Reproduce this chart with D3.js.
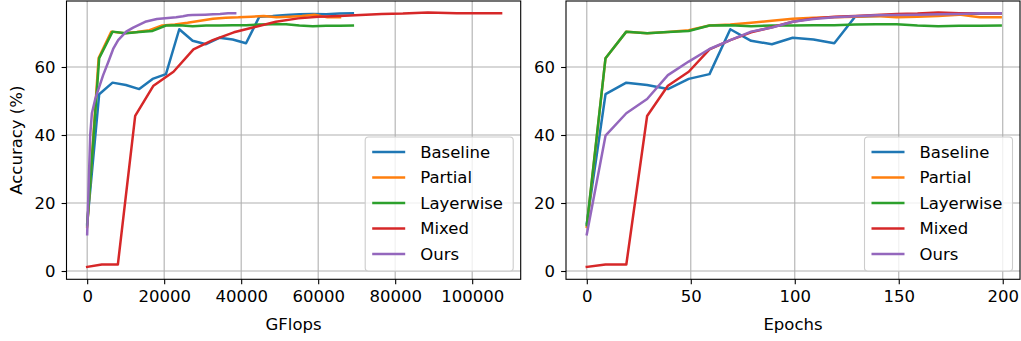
<!DOCTYPE html>
<html lang="en">
<head>
<meta charset="UTF-8">
<title>Accuracy vs GFlops / Epochs</title>
<script src="https://d3js.org/d3.v7.min.js"></script>
<style>
  body { margin: 0; background: #fff; }
  svg text { font-family: "DejaVu Sans", sans-serif; }
</style>
</head>
<body>
<svg id="chart" width="1021" height="341"></svg>
<script>
// ---- data ----
var names = ["Baseline", "Partial", "Layerwise", "Mixed", "Ours"];
var colors = ["#1f77b4", "#ff7f0e", "#2ca02c", "#d62728", "#9467bd"];

var epochs = [0, 9, 19, 29, 39, 49, 59, 69, 79, 89, 99, 109, 119, 129, 139, 149, 159, 169, 179, 189, 199];

var baselineAcc  = [14.0, 52.0, 55.4, 54.7, 53.5, 56.5, 57.9, 71.1, 67.7, 66.7, 68.6, 68.1, 67.0, 74.8, 75.0, 75.3, 75.5, 75.6, 75.5, 75.7, 75.8];
var partialAcc   = [13.0, 62.6, 70.4, 69.9, 70.3, 70.8, 72.2, 72.5, 73.0, 73.6, 74.2, 74.5, 74.6, 74.8, 75.0, 74.6, 74.8, 75.0, 75.4, 74.6, 74.6];
var layerwiseAcc = [13.5, 62.6, 70.4, 69.9, 70.3, 70.6, 72.2, 72.3, 72.0, 72.2, 72.2, 72.3, 72.3, 72.5, 72.6, 72.6, 72.2, 72.0, 72.1, 72.1, 72.2];
var mixedAcc     = [1.2, 1.9, 1.9, 45.6, 54.5, 58.6, 65.2, 67.9, 70.2, 71.7, 73.3, 74.3, 74.8, 75.0, 75.3, 75.6, 75.7, 76.0, 75.8, 75.8, 75.8];
var oursAcc      = [10.8, 39.8, 46.4, 50.6, 57.6, 61.6, 65.3, 67.9, 70.4, 71.6, 73.3, 74.1, 74.6, 74.9, 75.2, 75.3, 75.4, 75.5, 75.6, 75.8, 75.8];

var baselineGflops  = [0, 3120, 6590, 10050, 13520, 16990, 20460, 23920, 27390, 30860, 34320, 37790, 41260, 44720, 48190, 51660, 55130, 58590, 62060, 65530, 69000];
var partialGflops   = [0, 2970, 6270, 9570, 12870, 16170, 19470, 22770, 26070, 29370, 32670, 35970, 39270, 42570, 45870, 49170, 52470, 55770, 59070, 62370, 65670];
var layerwiseGflops = [0, 3120, 6590, 10050, 13520, 16990, 20460, 23920, 27390, 30860, 34320, 37790, 41260, 44720, 48190, 51660, 55130, 58590, 62060, 65530, 69000];
var mixedGflops     = [0, 3800, 7970, 12470, 17220, 22420, 27600, 32600, 38100, 43300, 49000, 54800, 60000, 65500, 71000, 76500, 82000, 88500, 96000, 101500, 107500];
var oursGflops      = [0, 780, 1220, 2100, 4150, 5530, 6750, 8050, 10130, 11950, 15060, 18100, 23100, 24900, 26200, 27300, 30650, 32700, 34500, 36600, 38440];

var yTicks = [0, 20, 40, 60];
var gflopTicks = [0, 20000, 40000, 60000, 80000, 100000];
var epochTicks = [0, 50, 100, 150, 200];

var accs = [baselineAcc, partialAcc, layerwiseAcc, mixedAcc, oursAcc];
var gflops = [baselineGflops, partialGflops, layerwiseGflops, mixedGflops, oursGflops];

// ---- layout ----
var fs = 16.5;
var lw = 2.5;
var plotTop = 1, plotBottom = 279.3;
var svg = d3.select("#chart");

var y = d3.scaleLinear().domain([-2.44, 79.41]).range([plotBottom, plotTop]);

function panel(left, right, x, xs, ticks, xlabel, ylabel) {
  var g = svg.append("g");
  var w = right - left;

  // grid
  g.append("g").selectAll("line").data(ticks).join("line")
    .attr("x1", function(d) { return x(d); }).attr("x2", function(d) { return x(d); })
    .attr("y1", plotTop).attr("y2", plotBottom)
    .attr("stroke", "#b0b0b0").attr("stroke-width", 1.1);
  g.append("g").selectAll("line").data(yTicks).join("line")
    .attr("x1", left).attr("x2", right)
    .attr("y1", function(d) { return y(d); }).attr("y2", function(d) { return y(d); })
    .attr("stroke", "#b0b0b0").attr("stroke-width", 1.1);

  // lines
  var clipId = "clip" + Math.round(left);
  g.append("clipPath").attr("id", clipId).append("rect")
    .attr("x", left).attr("y", plotTop).attr("width", w).attr("height", plotBottom - plotTop);
  var line = d3.line().x(function(d) { return x(d[0]); }).y(function(d) { return y(d[1]); });
  names.forEach(function(n, i) {
    var pts = xs[i].map(function(v, j) { return [v, accs[i][j]]; });
    g.append("path").datum(pts)
      .attr("clip-path", "url(#" + clipId + ")")
      .attr("fill", "none").attr("stroke", colors[i])
      .attr("stroke-width", lw).attr("stroke-linejoin", "round").attr("stroke-linecap", "square")
      .attr("d", line);
  });

  // axes
  var xAxis = d3.axisBottom(x).tickValues(ticks).tickSize(4.9).tickPadding(6).tickFormat(d3.format("d"));
  var yAxis = d3.axisLeft(y).tickValues(yTicks).tickSize(4.9).tickPadding(6).tickFormat(d3.format("d"));
  var ax = g.append("g").attr("transform", "translate(0," + plotBottom + ")").call(xAxis);
  var ay = g.append("g").attr("transform", "translate(" + left + ",0)").call(yAxis);
  [ax, ay].forEach(function(a) {
    a.select(".domain").remove();
    a.selectAll("line").attr("stroke", "#000").attr("stroke-width", 1.1);
    a.selectAll("text").attr("fill", "#000").style("font-size", fs + "px").style("font-family", "DejaVu Sans");
  });

  // spines
  g.append("rect").attr("x", left).attr("y", plotTop).attr("width", w).attr("height", plotBottom - plotTop)
    .attr("fill", "none").attr("stroke", "#000").attr("stroke-width", 1.1);

  g.append("text").attr("x", (left + right) / 2).attr("y", 330)
    .attr("text-anchor", "middle").style("font-size", fs + "px").text(xlabel);
  if (ylabel) {
    g.append("text").attr("transform", "translate(22," + ((plotTop + plotBottom) / 2) + ") rotate(-90)")
      .attr("text-anchor", "middle").style("font-size", fs + "px").text(ylabel);
  }

  // legend
  var lx = right - 155.5, ly = 137, lwid = 148, lh = 134;
  var leg = g.append("g");
  leg.append("rect").attr("x", lx).attr("y", ly).attr("width", lwid).attr("height", lh)
    .attr("rx", 3.3).attr("fill", "#fff").attr("fill-opacity", 0.8)
    .attr("stroke", "#cccccc").attr("stroke-width", 1.1);
  names.forEach(function(n, i) {
    var cy = ly + 15 + i * 25.5;
    leg.append("line").attr("x1", lx + 7).attr("x2", lx + 40).attr("y1", cy).attr("y2", cy)
      .attr("stroke", colors[i]).attr("stroke-width", lw);
    leg.append("text").attr("x", lx + 55).attr("y", cy).attr("dy", "0.36em")
      .style("font-size", fs + "px").text(n);
  });
}

var xLeft = d3.scaleLinear().domain([-5370, 112600]).range([66.5, 520.7]);
var xRight = d3.scaleLinear().domain([-10, 208.3]).range([566, 1020]);

panel(66.5, 520.7, xLeft, gflops, gflopTicks, "GFlops", "Accuracy (%)");
panel(566, 1020, xRight, epochs.map(function() { return epochs; }), epochTicks, "Epochs", null);
</script>
</body>
</html>
